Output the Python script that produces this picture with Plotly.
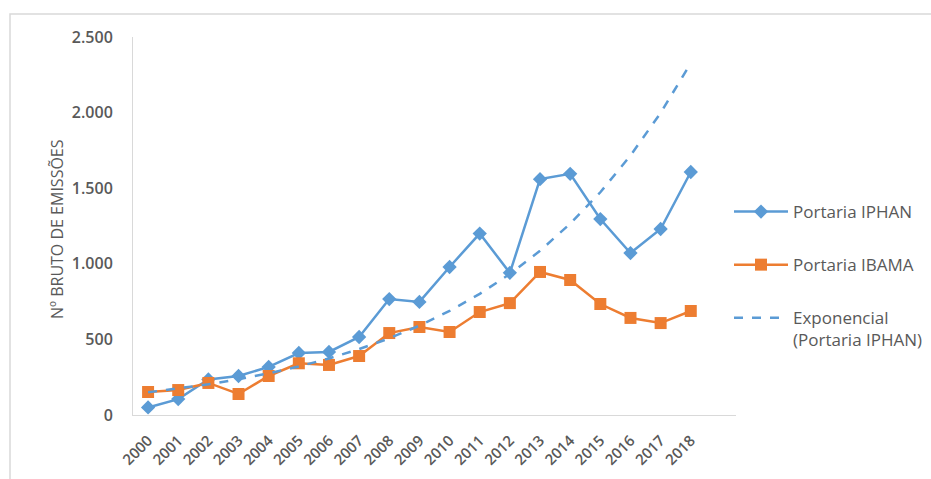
import plotly.graph_objects as go

years = [str(y) for y in range(2000, 2019)]
iphan = [50, 105, 235, 258, 318, 410, 417, 516, 767, 748, 979, 1200, 940, 1560, 1595, 1296, 1071, 1230, 1607]
ibama = [152, 165, 212, 139, 258, 342, 331, 390, 542, 582, 549, 681, 740, 946, 893, 734, 642, 608, 688]
expo = [150, 175, 203, 237, 276, 321, 374, 436, 507, 591, 688, 801, 933, 1086, 1265, 1473, 1716, 1998, 2327]

names = ["Portaria IPHAN", "Portaria IBAMA", "Exponencial<br>(Portaria IPHAN)"]
y_title = "Nº BRUTO DE EMISSÕES"

BLUE = "#5b9bd5"
ORANGE = "#ed7d31"
GRAY = "#595959"

xs = list(range(len(years)))

fig = go.Figure()
fig.add_trace(go.Scatter(x=xs, y=iphan, name=names[0], mode="lines+markers",
                         line=dict(color=BLUE, width=2.5),
                         marker=dict(symbol="diamond", size=11, color=BLUE),
                         legendgroup="a"))
fig.add_trace(go.Scatter(x=xs, y=ibama, name=names[1], mode="lines+markers",
                         line=dict(color=ORANGE, width=2.5),
                         marker=dict(symbol="square", size=12, color=ORANGE),
                         legendgroup="b"))
fig.add_trace(go.Scatter(x=xs, y=expo, name=names[2], mode="lines",
                         line=dict(color=BLUE, width=2.5, dash="dash"),
                         legendgroup="c"))

L, R, T, B = 133, 195, 37, 64
W, H = 931, 479
pw = W - L - R
ph = H - T - B

fig.update_layout(
    width=W, height=H,
    margin=dict(l=L, r=R, t=T, b=B, autoexpand=False),
    paper_bgcolor="white", plot_bgcolor="white",
    separators=",.",
    font=dict(family="'Open Sans', sans-serif", color=GRAY, size=13),
    xaxis=dict(range=[-0.5, 19.5], tickvals=xs, ticktext=years, tickangle=-45,
               showgrid=False, zeroline=False, showline=True, linecolor="#d9d9d9",
               linewidth=1, ticks="", ticklabelstandoff=10, automargin=False,
               tickfont=dict(family="'Open Sans', sans-serif", size=15, color=GRAY, weight=600)),
    yaxis=dict(range=[0, 2500], tickvals=[0, 500, 1000, 1500, 2000, 2500],
               tickformat=",d", showgrid=False, zeroline=False, showline=True,
               linecolor="#d9d9d9", linewidth=1, ticks="", ticklabelstandoff=16,
               automargin=False,
               tickfont=dict(family="'Open Sans', sans-serif", size=16, color=GRAY, weight=600)),
    legend=dict(xref="container", yref="container", x=729 / W, xanchor="left",
                y=1 - 194 / H, yanchor="top",
                tracegroupgap=28, valign="top", bgcolor="rgba(0,0,0,0)", itemwidth=54,
                font=dict(family="'Open Sans', sans-serif", size=17, color=GRAY)),
    showlegend=True,
    annotations=[dict(text=y_title, xref="paper", yref="paper",
                      x=(57 - L) / pw, y=(H - B - 229) / ph, xanchor="center", yanchor="middle",
                      textangle=-90, showarrow=False,
                      font=dict(family="'Open Sans', sans-serif", size=16, color=GRAY))],
    shapes=[dict(type="rect", xref="paper", yref="paper",
                 x0=(10 - L) / pw, x1=1.5, y0=-0.5, y1=(H - B - 14) / ph,
                 line=dict(color="#d9d9d9", width=1.5), fillcolor="rgba(0,0,0,0)",
                 layer="below")],
)

fig.write_html("out.html")
